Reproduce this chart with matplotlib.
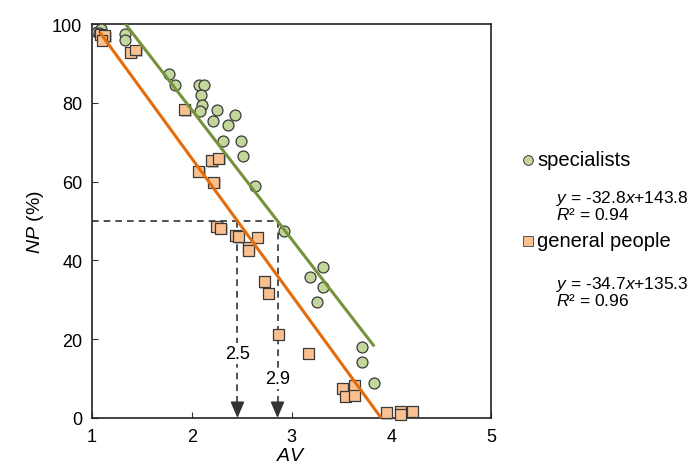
import matplotlib
matplotlib.use("Agg")
import matplotlib.pyplot as plt
import matplotlib.patheffects as pe
from matplotlib.lines import Line2D
import numpy as np

plt.rcParams['font.family'] = ['Liberation Sans', 'DejaVu Sans']
plt.rcParams['mathtext.fontset'] = 'custom'
plt.rcParams['mathtext.rm'] = 'Liberation Sans'
plt.rcParams['mathtext.it'] = 'Liberation Sans:italic'

# Specialists
spec_av = [1.05, 1.09, 1.07, 1.33, 1.33, 1.77, 1.83, 2.07, 2.12, 2.09, 2.10, 2.08,
           2.25, 2.21, 2.43, 2.36, 2.31, 2.49, 2.51, 2.63, 2.92, 3.32, 3.19, 3.32,
           3.26, 3.71, 3.71, 3.83]
spec_np = [98.0, 98.7, 97.6, 97.5, 96.0, 87.3, 84.5, 84.6, 84.6, 82.0, 79.4, 78.0,
           78.1, 75.5, 76.8, 74.3, 70.4, 70.4, 66.5, 59.0, 47.5, 38.4, 35.9, 33.2,
           29.4, 17.9, 14.1, 8.9]

# General people
gen_av = [1.08, 1.13, 1.10, 1.39, 1.44, 1.93, 2.07, 2.20, 2.27, 2.22, 2.25, 2.29,
          2.44, 2.47, 2.66, 2.57, 2.57, 2.73, 2.77, 2.87, 3.17, 3.51, 3.63, 3.54,
          3.63, 3.95, 4.09, 4.09, 4.21]
gen_np = [97.3, 97.0, 95.8, 92.8, 93.4, 78.2, 62.6, 65.3, 65.9, 59.8, 48.6, 48.2,
          46.3, 46.0, 45.9, 43.3, 42.5, 34.6, 31.6, 21.3, 16.4, 7.5, 8.2, 5.5,
          5.8, 1.3, 1.7, 1.0, 1.7]

# Linear fits (slope, intercept, R^2)
spec_fit = (-32.8, 143.8, 0.94)
gen_fit = (-34.7, 135.3, 0.96)
spec_range = (1.335, 3.83)
gen_range = (1.08, 3.9)

threshold = 50

green_line = '#76923c'
green_face = '#c3d69b'
orange_line = '#e46c0a'
orange_face = '#fac090'
edge = '#3a3a3a'
dash_col = '#333333'

fig = plt.figure(figsize=(6.92, 4.77), dpi=100)
ax = fig.add_axes([92/692, 1-419/477, 399/692, 394/477])

shadow = [pe.SimplePatchShadow(offset=(1, -1), shadow_rgbFace='#888888', alpha=0.5), pe.Normal()]

ax.scatter(spec_av, spec_np, s=62, marker='o', facecolor=green_face, edgecolor=edge,
           linewidth=0.9, zorder=3, clip_on=False)
ax.scatter(gen_av, gen_np, s=62, marker='s', facecolor=orange_face, edgecolor=edge,
           linewidth=0.9, zorder=3, clip_on=False, path_effects=shadow)

xs = np.array(spec_range)
ax.plot(xs, spec_fit[0]*xs + spec_fit[1], color=green_line, lw=2.2, zorder=4, solid_capstyle='butt')
xg = np.array(gen_range)
ax.plot(xg, gen_fit[0]*xg + gen_fit[1], color=orange_line, lw=2.2, zorder=4, solid_capstyle='butt')

# Threshold crossings
x_gen = (gen_fit[1] - threshold) / -gen_fit[0]
x_spec = (spec_fit[1] - threshold) / -spec_fit[0]

ax.plot([1, x_spec], [threshold, threshold], ls=(0, (4, 3)), color=dash_col, lw=1.2, zorder=2)
for xv, ylab in [(x_gen, 16.3), (x_spec, 10.0)]:
    ax.plot([xv, xv], [threshold, 3.5], ls=(0, (4, 3)), color=dash_col, lw=1.2, zorder=2)
    ax.annotate('', xy=(xv, 0), xytext=(xv, 4.0),
                arrowprops=dict(arrowstyle='-|>,head_length=0.7,head_width=0.3', color=dash_col,
                                lw=1.2, shrinkA=0, shrinkB=0, mutation_scale=14), zorder=5)
    ax.text(xv, ylab, f'{xv:.1f}', ha='center', va='center', fontsize=13, zorder=6,
            bbox=dict(facecolor='white', edgecolor='none', pad=1.5))

ax.set_xlim(1, 5)
ax.set_ylim(0, 100)
ax.set_xticks([1, 2, 3, 4, 5])
ax.set_yticks([0, 20, 40, 60, 80, 100])
ax.tick_params(direction='in', length=4, width=0.8, labelsize=13, pad=7, color='#333333')
for sp in ax.spines.values():
    sp.set_linewidth(1.2)
    sp.set_color('#222222')
ax.set_xlabel('$AV$', fontsize=14, labelpad=2)
ax.set_ylabel('$NP$ (%)', fontsize=14, labelpad=4)

# Legend with fit equations
fig.add_artist(Line2D([528/692], [1-161/477], transform=fig.transFigure, marker='o',
                      markersize=7, markerfacecolor=green_face, markeredgecolor=edge,
                      markeredgewidth=0.7, linestyle='none'))
fig.text(537/692, 1-161/477, 'specialists', fontsize=14.5, va='center', ha='left')
fig.text(556/692, 1-189/477,
         f'$y$ = {spec_fit[0]}$x$+{spec_fit[1]}\n$R$² = {spec_fit[2]:.2f}',
         fontsize=12.5, va='top', ha='left', linespacing=0.95)

fig.add_artist(Line2D([528/692], [1-242/477], transform=fig.transFigure, marker='s',
                      markersize=6.5, markerfacecolor=orange_face, markeredgecolor='#555555',
                      markeredgewidth=0.7, linestyle='none'))
fig.text(537/692, 1-242/477, 'general people', fontsize=14.5, va='center', ha='left')
fig.text(556/692, 1-275/477,
         f'$y$ = {gen_fit[0]}$x$+{gen_fit[1]}\n$R$² = {gen_fit[2]:.2f}',
         fontsize=12.5, va='top', ha='left', linespacing=0.95)

fig.savefig('out.png', dpi=100)
